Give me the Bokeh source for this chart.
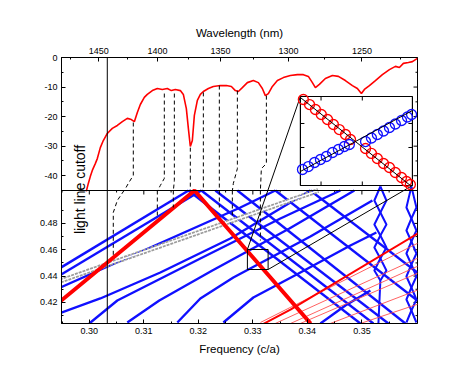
import math
from bokeh.plotting import figure
from bokeh.models import Range1d, LinearAxis, FixedTicker, Span, Label
from bokeh.embed import file_html
from bokeh.resources import INLINE

# ---------------- data ----------------
A_NM = 437.5  # lattice constant: frequency (c/a) = A_NM / wavelength
freq_ticks = [0.30, 0.31, 0.32, 0.33, 0.34, 0.35]
freq_tick_labels = ["0.30", "0.31", "0.32", "0.33", "0.34", "0.35"]
freq_minor = [0.295, 0.305, 0.315, 0.325, 0.335, 0.345, 0.355]
wl_ticks = [1450, 1400, 1350, 1300, 1250]
wl_tick_labels = ["1450", "1400", "1350", "1300", "1250"]
wl_minor = [1475, 1425, 1375, 1325, 1275, 1225]
k_ticks = [0.42, 0.44, 0.46, 0.48]
k_tick_labels = ["0.42", "0.44", "0.46", "0.48"]
k_minor = [0.41, 0.43, 0.45, 0.47, 0.49]
db_ticks = [0, -10, -20, -30, -40]
db_tick_labels = ["0", "-10", "-20", "-30", "-40"]
db_minor = [-5, -15, -25, -35]

light_cutoff_f = 0.3033

trans_f = [0.29945, 0.29982, 0.30018, 0.30055, 0.30110, 0.30147, 0.30202, 0.30257, 0.30330, 0.30422,
           0.30514, 0.30606, 0.30697, 0.30771, 0.30826, 0.30881, 0.30936, 0.31009, 0.31064, 0.31156,
           0.31248, 0.31339, 0.31431, 0.31505, 0.31578, 0.31670, 0.31725, 0.31780, 0.31817, 0.31853,
           0.31890, 0.31927, 0.31982, 0.32037, 0.32092, 0.32184, 0.32275, 0.32404, 0.32514, 0.32606,
           0.32679, 0.32734, 0.32807, 0.32899, 0.33009, 0.33101, 0.33174, 0.33229, 0.33284, 0.33358,
           0.33450, 0.33560, 0.33688, 0.33817, 0.33927, 0.34018, 0.34092, 0.34147, 0.34220, 0.34330,
           0.34459, 0.34569, 0.34697, 0.34826, 0.34917, 0.34991, 0.35046, 0.35138, 0.35248, 0.35376,
           0.35505, 0.35615, 0.35688, 0.35761, 0.35853, 0.35927, 0.36018]
trans_db = [-45.3, -42.6, -40.3, -38.2, -35.9, -34.2, -30.5, -28.1, -25.7, -24.0,
            -23.0, -21.7, -20.6, -21.0, -21.7, -18.6, -15.9, -13.5, -12.5, -11.2,
            -10.5, -10.8, -10.5, -11.2, -10.8, -11.2, -12.5, -17.3, -24.0, -30.1,
            -28.1, -19.6, -14.5, -12.5, -11.5, -10.5, -9.8, -9.5, -9.5, -9.8,
            -11.2, -11.5, -10.2, -8.5, -7.8, -8.5, -10.5, -12.9, -12.2, -9.8,
            -7.8, -6.8, -6.1, -5.8, -5.8, -6.4, -8.5, -10.2, -9.1, -7.1,
            -6.1, -6.4, -7.8, -9.5, -10.5, -12.2, -10.8, -9.5, -7.8, -5.8,
            -4.1, -3.0, -3.4, -2.0, -1.7, -1.4, -0.3]

# dashed guide lines: part in transmission panel (f, dB) and part in band panel (f, k)
dash_top_f = [[0.30807, 0.30807, 0.30716, 0.30637], [0.31376, 0.31376, 0.31303, 0.31248],
              [0.31560, 0.31560, 0.31541], [0.31853, 0.31853], [0.32092, 0.32092],
              [0.32385, 0.32385], [0.32716, 0.32716, 0.32642, 0.32624],
              [0.33248, 0.33248, 0.33156, 0.33138]]
dash_top_db = [[-22.0, -39.9, -42.6, -45.2], [-12.2, -40.9, -43.3, -45.2],
               [-12.2, -41.6, -45.2], [-30.5, -45.2], [-11.8, -45.2],
               [-9.5, -45.2], [-11.2, -37.6, -42.6, -45.2],
               [-12.9, -35.9, -37.6, -45.2]]
dash_bot_f = [[0.30637, 0.30514, 0.30440, 0.30440], [0.31248, 0.31248], [0.31541, 0.31541],
              [0.32385, 0.32385], [0.32624, 0.32624], [0.33138, 0.33138]]
dash_bot_k = [[0.5050, 0.4974, 0.4883, 0.4541], [0.5050, 0.4845], [0.5050, 0.4921],
              [0.5050, 0.4921], [0.5050, 0.4861], [0.5050, 0.4670]]

# band structure: blue bands rising from lower left
asc_f = [[0.2940, 0.3182],
         [0.2940, 0.32055],
         [0.2940, 0.32771, 0.33413],
         [0.2940, 0.30202, 0.31303, 0.32587, 0.34055],
         [0.30000, 0.30514, 0.32037, 0.33505, 0.34606],
         [0.30697, 0.31284, 0.32257, 0.33670, 0.34862],
         [0.31615, 0.32037, 0.32642, 0.34055, 0.35193],
         [0.32459, 0.33009, 0.33872, 0.34789, 0.35266],
         [0.34239, 0.34697, 0.35156]]
asc_k = [[0.4445, 0.5050],
         [0.4391, 0.5050],
         [0.4300, 0.49209, 0.5050],
         [0.4110, 0.42299, 0.44273, 0.46855, 0.5050],
         [0.40400, 0.42147, 0.45336, 0.48374, 0.5050],
         [0.40476, 0.42147, 0.44425, 0.47614, 0.5050],
         [0.40476, 0.42299, 0.43893, 0.47007, 0.49741],
         [0.40476, 0.42374, 0.44273, 0.46323, 0.47311],
         [0.40400, 0.41767, 0.42906]]
# folded bands falling to lower right
desc_f = [[0.31817, 0.34972], [0.32055, 0.35211], [0.32312, 0.35486], [0.32716, 0.35798],
          [0.33413, 0.36018], [0.34055, 0.36018]]
desc_k = [[0.5050, 0.4040], [0.5050, 0.4040], [0.5050, 0.4040], [0.5050, 0.4040],
          [0.5050, 0.42147], [0.5050, 0.44273]]
# braided bands near the right edge
wavy_f = [[0.35339, 0.35229, 0.35339, 0.35450, 0.35339, 0.35229, 0.35339, 0.35450, 0.35339, 0.35303],
          [0.35339, 0.35450, 0.35339, 0.35229, 0.35339, 0.35450, 0.35339, 0.35229, 0.35339],
          [0.35908, 0.35817, 0.35908, 0.36000, 0.35908, 0.35817, 0.35908, 0.36000, 0.35908, 0.35817,
           0.35908, 0.36000],
          [0.35908, 0.36000, 0.35908, 0.35817, 0.35908, 0.36000, 0.35908, 0.35817, 0.35908, 0.36000,
           0.35908, 0.35817]]
wavy_k = [[0.50804, 0.49741, 0.48829, 0.47918, 0.47083, 0.46172, 0.45336, 0.44425, 0.43665, 0.40400],
          [0.50804, 0.49741, 0.48829, 0.47918, 0.47083, 0.46172, 0.45336, 0.44425, 0.43665],
          [0.50804, 0.49209, 0.48374, 0.47462, 0.46627, 0.45716, 0.44880, 0.43969, 0.43134, 0.42223,
           0.41387, 0.40476],
          [0.50804, 0.49209, 0.48374, 0.47462, 0.46627, 0.45716, 0.44880, 0.43969, 0.43134, 0.42223,
           0.41387, 0.40476]]

# guided (red) band folded at the zone edge
red_f = [0.2940, 0.3193, 0.3406]
red_k = [0.4185, 0.5050, 0.4040]
# light line (grey circles)
light_f = [0.2940, 0.3420]
light_k = [0.4353, 0.5050]
# thin red bands (lower right)
thin_red_f = [[0.3314, 0.3605], [0.3341, 0.3605], [0.3369, 0.3605], [0.3387, 0.3605],
              [0.3442, 0.3605], [0.3497, 0.3605]]
thin_red_k = [[0.4048, 0.4655], [0.4040, 0.4541], [0.4040, 0.4480], [0.4040, 0.4427],
              [0.4040, 0.4298], [0.4040, 0.4190]]
mid_red_f = [0.3314, 0.3369, 0.3605]
mid_red_k = [0.4025, 0.4146, 0.4730]

# zoom box (band panel) = inset data window
inset_f = [0.3290, 0.3328]
inset_k = [0.4450, 0.4602]
inset_red1_f = [0.32910, 0.32931, 0.32951, 0.32971, 0.32992, 0.33012, 0.33032, 0.33053, 0.33070]
inset_red1_k = [0.45969, 0.45883, 0.45798, 0.45713, 0.45627, 0.45542, 0.45456, 0.45371, 0.45286]
inset_red2_f = [0.33121, 0.33141, 0.33161, 0.33182, 0.33202, 0.33222, 0.33243, 0.33260, 0.33273]
inset_red2_k = [0.45132, 0.45047, 0.44961, 0.44876, 0.44807, 0.44722, 0.44637, 0.44568, 0.44517]
inset_blue1_f = [0.32907, 0.32927, 0.32948, 0.32968, 0.32988, 0.33009, 0.33029, 0.33049, 0.33066]
inset_blue1_k = [0.44773, 0.44824, 0.44893, 0.44944, 0.44995, 0.45064, 0.45115, 0.45166, 0.45200]
inset_blue2_f = [0.33121, 0.33141, 0.33161, 0.33182, 0.33202, 0.33222, 0.33243, 0.33263, 0.33277]
inset_blue2_k = [0.45251, 0.45311, 0.45371, 0.45431, 0.45491, 0.45550, 0.45610, 0.45670, 0.45713]
inset_line1_f = [0.3290, 0.33273]
inset_line1_k = [0.46003, 0.4450]
inset_line2_f = [0.3290, 0.3328]
inset_line2_k = [0.44739, 0.45781]
inset_xticks = [0.32970, 0.33110]
inset_yticks = [0.45149, 0.45559]

# ---------------- layout constants ----------------
F0, F1 = 0.2949, 0.3602          # frequency range
K0, K1 = 0.404, 0.505            # wavevector range (lower panel)
DB0, DB1 = -45.0, 0.0            # transmission range (upper panel)
YTOP = K1 + (K1 - K0)            # main y range spans both panels
INSET_X = (0.33872, 0.35927)     # inset placement, main coordinates
INSET_Y = (0.50880, 0.57638)
FRAME_W, FRAME_H = 356, 266

def y_main_from_db(d):
    return K1 + (d - DB0) / (DB1 - DB0) * (K1 - K0)

FONT = "Liberation Sans"

p = figure(width=61 + FRAME_W + 25, height=57 + FRAME_H + 45,
           x_range=Range1d(F0, F1), y_range=Range1d(K0, YTOP),
           output_backend="svg", toolbar_location=None,
           x_axis_location=None, y_axis_location=None,
           min_border_left=61, min_border_right=25, min_border_top=57, min_border_bottom=45)
p.outline_line_color = "black"
p.outline_line_width = 1
p.xgrid.visible = False
p.ygrid.visible = False
p.background_fill_color = "white"
p.border_fill_color = "white"

# extra ranges: transmission (upper half) and inset window
p.extra_y_ranges = {"trans": Range1d(DB0 - (DB1 - DB0), DB1)}
sx = (inset_f[1] - inset_f[0]) / (INSET_X[1] - INSET_X[0])
sy = (inset_k[1] - inset_k[0]) / (INSET_Y[1] - INSET_Y[0])
ix0 = inset_f[0] - (INSET_X[0] - F0) * sx
ix1 = inset_f[1] + (F1 - INSET_X[1]) * sx
iy0 = inset_k[0] - (INSET_Y[0] - K0) * sy
iy1 = inset_k[1] + (YTOP - INSET_Y[1]) * sy
p.extra_x_ranges = {"ifr": Range1d(ix0, ix1)}
p.extra_y_ranges["ik"] = Range1d(iy0, iy1)

px_f = (F1 - F0) / FRAME_W
px_k = (YTOP - K0) / FRAME_H

def style_axis(ax):
    ax.major_tick_in = 4
    ax.major_tick_out = 0
    ax.minor_tick_in = 2
    ax.minor_tick_out = 0
    ax.axis_line_color = "black"
    ax.major_tick_line_color = "black"
    ax.minor_tick_line_color = "black"
    ax.major_label_text_font = FONT
    ax.major_label_text_color = "black"
    ax.major_label_text_font_size = "9px"
    ax.major_label_standoff = 4
    ax.axis_label_text_font = FONT
    ax.axis_label_text_font_size = "11.5px"
    ax.axis_label_text_font_style = "normal"
    ax.axis_label_text_color = "black"

# bottom: frequency
bx = LinearAxis(ticker=FixedTicker(ticks=freq_ticks, minor_ticks=freq_minor),
                axis_label="Frequency (c/a)")
bx.major_label_overrides = {t: s for t, s in zip(freq_ticks, freq_tick_labels)}
style_axis(bx)
bx.axis_label_standoff = 6
p.add_layout(bx, "below")

# top: wavelength
wl_pos = [A_NM / w for w in wl_ticks]
tx = LinearAxis(ticker=FixedTicker(ticks=wl_pos, minor_ticks=[A_NM / w for w in wl_minor]),
                axis_label="Wavelength (nm)")
tx.major_label_overrides = {t: s for t, s in zip(wl_pos, wl_tick_labels)}
style_axis(tx)
tx.axis_label_standoff = 6
p.add_layout(tx, "above")

# left: wavevector + transmission
db_pos = [y_main_from_db(d) for d in db_ticks]
left_major = k_ticks + db_pos
left_minor = k_minor + [y_main_from_db(d) for d in db_minor]
ly = LinearAxis(ticker=FixedTicker(ticks=left_major, minor_ticks=left_minor))
ly.major_label_overrides = {t: s for t, s in zip(left_major, k_tick_labels + db_tick_labels)}
style_axis(ly)
p.add_layout(ly, "left")

# right edge: inward ticks only
p.segment(x0=[F1] * len(left_major), x1=[F1 - 4 * px_f] * len(left_major),
          y0=left_major, y1=left_major, line_color="black", line_width=1)
p.segment(x0=[F1] * len(left_minor), x1=[F1 - 2 * px_f] * len(left_minor),
          y0=left_minor, y1=left_minor, line_color="black", line_width=1)

# divider between panels with inward ticks
p.add_layout(Span(location=K1, dimension="width", line_color="black", line_width=1))
p.segment(x0=freq_ticks, x1=freq_ticks, y0=[K1] * len(freq_ticks),
          y1=[K1 - 4 * px_k] * len(freq_ticks), line_color="black", line_width=1)
p.segment(x0=freq_minor, x1=freq_minor, y0=[K1] * len(freq_minor),
          y1=[K1 - 2 * px_k] * len(freq_minor), line_color="black", line_width=1)

# ---- band panel ----
BLUE = "#1010ff"
p.multi_line(xs=asc_f, ys=asc_k, line_color=BLUE, line_width=2.4, line_join="round")
p.multi_line(xs=desc_f, ys=desc_k, line_color=BLUE, line_width=2.4)
p.multi_line(xs=wavy_f, ys=wavy_k, line_color=BLUE, line_width=2.0, line_join="round")
p.line(light_f, light_k, line_color="#9c9c9c", line_width=5, line_dash="3 1")
p.line(light_f, light_k, line_color="white", line_width=1.6)
p.multi_line(xs=thin_red_f, ys=thin_red_k, line_color="#ff5050", line_width=0.9)
p.line(mid_red_f, mid_red_k, line_color="#ff0000", line_width=2.0)
p.line(red_f, red_k, line_color="#ff0000", line_width=4)
p.multi_line(xs=dash_bot_f, ys=dash_bot_k, line_color="black", line_width=1, line_dash="4 3")
# zoom box
p.quad(left=[inset_f[0]], right=[inset_f[1]], bottom=[inset_k[0]], top=[inset_k[1]],
       fill_color=None, line_color="black", line_width=1)

# ---- transmission panel ----
p.line(trans_f, trans_db, line_color="#ff0000", line_width=1.6, y_range_name="trans")
p.multi_line(xs=dash_top_f, ys=dash_top_db, line_color="black", line_width=1,
             line_dash="4 3", y_range_name="trans")

# light line cutoff
p.add_layout(Span(location=light_cutoff_f, dimension="height", line_color="black", line_width=1))

# connector lines from zoom box to inset (converted to main coordinates)
def mx(f):
    return F0 + (f - ix0) / (ix1 - ix0) * (F1 - F0)

def my(k):
    return K0 + (k - iy0) / (iy1 - iy0) * (YTOP - K0)

p.line([inset_f[0], mx(inset_f[0])], [inset_k[1], my(inset_k[1])], line_color="black", line_width=1)
p.line([inset_f[1], mx(inset_f[1])], [inset_k[0], my(inset_k[0])], line_color="black", line_width=1)

# ---- inset ----
IR = dict(x_range_name="ifr", y_range_name="ik")
p.quad(left=[inset_f[0]], right=[inset_f[1]], bottom=[inset_k[0]], top=[inset_k[1]],
       fill_color="white", line_color="black", line_width=1.2, **IR)
itl_x = 4 * (ix1 - ix0) / FRAME_W
itl_y = 4 * (iy1 - iy0) / FRAME_H
p.segment(x0=inset_xticks, x1=inset_xticks, y0=[inset_k[0]] * 2, y1=[inset_k[0] + itl_y] * 2,
          line_color="black", **IR)
p.segment(x0=inset_xticks, x1=inset_xticks, y0=[inset_k[1]] * 2, y1=[inset_k[1] - itl_y] * 2,
          line_color="black", **IR)
p.segment(x0=[inset_f[0]] * 2, x1=[inset_f[0] + itl_x] * 2, y0=inset_yticks, y1=inset_yticks,
          line_color="black", **IR)
p.segment(x0=[inset_f[1]] * 2, x1=[inset_f[1] - itl_x] * 2, y0=inset_yticks, y1=inset_yticks,
          line_color="black", **IR)
p.scatter(inset_red1_f, inset_red1_k, marker="circle", size=10, fill_color=None,
          line_color="#ff0000", line_width=1.3, **IR)
p.scatter(inset_red2_f, inset_red2_k, marker="circle", size=10, fill_color=None,
          line_color="#ff0000", line_width=1.3, **IR)
p.scatter(inset_blue1_f, inset_blue1_k, marker="circle", size=10, fill_color=None,
          line_color=BLUE, line_width=1.3, **IR)
p.scatter(inset_blue2_f, inset_blue2_k, marker="circle", size=10, fill_color=None,
          line_color=BLUE, line_width=1.3, **IR)
p.line(inset_line1_f, inset_line1_k, line_color="black", line_width=1, **IR)
p.line(inset_line2_f, inset_line2_k, line_color="black", line_width=1, **IR)

# ---- text labels ----
p.add_layout(Label(x=F0 - 28 * px_f, y=K1 + (K1 - K0) / 2 - 3 * px_k, text="Transmission (dB)",
                   angle=math.pi / 2, text_align="center", text_baseline="middle",
                   text_font=FONT, text_font_size="11.5px", text_color="black"))
p.add_layout(Label(x=F0 - 28 * px_f, y=(K0 + K1) / 2 - 2 * px_k, text="Wavevector (2\u03c0/a)",
                   angle=math.pi / 2, text_align="center", text_baseline="middle",
                   text_font=FONT, text_font_size="11.5px", text_color="black"))
p.add_layout(Label(x=F0 + 18 * px_f, y=K1 + 1 * px_k, text="light line cutoff",
                   angle=math.pi / 2, text_align="center", text_baseline="middle",
                   text_font=FONT, text_font_size="14px", text_color="black"))

open("out.html", "w").write(file_html(p, INLINE))
